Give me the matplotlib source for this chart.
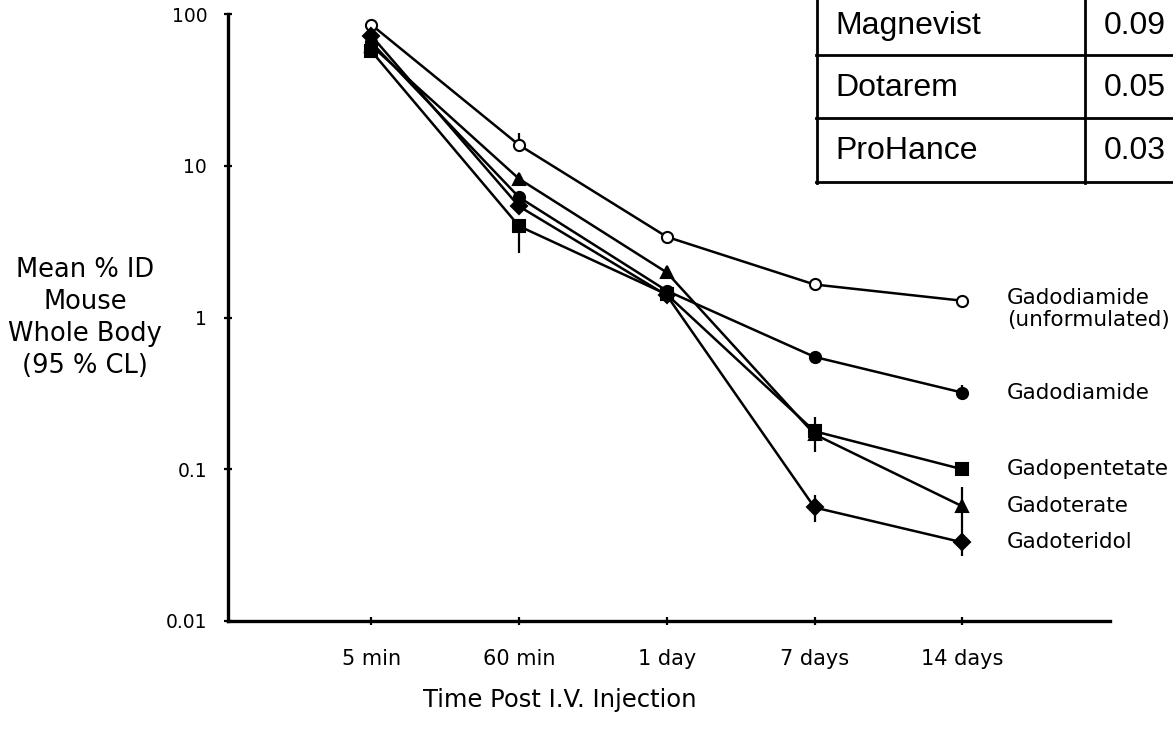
import numpy as np
import matplotlib
matplotlib.use("Agg")
import matplotlib.pyplot as plt

# whole-body retention, mean % ID with 95% CL
times = ["5 min", "60 min", "1 day", "7 days", "14 days"]

gd_unf = [85, 13.7, 3.4, 1.65, 1.29]
gd_unf_lo = [85, 13.7, 3.4, 1.65, 1.29]
gd_unf_hi = [85, 16.5, 3.4, 1.65, 1.29]

gd = [65, 6.2, 1.5, 0.55, 0.32]
gd_lo = [65, 6.2, 1.5, 0.55, 0.29]
gd_hi = [65, 6.2, 1.5, 0.55, 0.36]

gpent = [57, 4.0, 1.42, 0.178, 0.10]
gpent_lo = [57, 2.68, 1.42, 0.13, 0.10]
gpent_hi = [57, 4.0, 1.42, 0.22, 0.10]

gterate = [62, 8.2, 1.98, 0.17, 0.057]
gterate_lo = [62, 8.2, 1.98, 0.17, 0.045]
gterate_hi = [62, 8.2, 1.98, 0.17, 0.076]

gteridol = [72, 5.4, 1.40, 0.056, 0.033]
gteridol_lo = [72, 5.4, 1.40, 0.045, 0.027]
gteridol_hi = [72, 5.4, 1.40, 0.068, 0.045]

names = ["Gadodiamide\n(unformulated)", "Gadodiamide", "Gadopentetate",
         "Gadoterate", "Gadoteridol"]

# inset table
drugs = ["Magnevist", "Dotarem", "ProHance"]
drug_vals = ["0.09", "0.05", "0.03"]

W, H = 1173, 731
fig = plt.figure(figsize=(W / 100, H / 100), dpi=100)
ax = fig.add_axes([228 / W, (H - 621) / H, (1110 - 228) / W, (621 - 14) / H])

x = np.arange(len(times))
series = [
    (gd_unf, gd_unf_lo, gd_unf_hi, dict(marker="o", mfc="white", ms=8)),
    (gd, gd_lo, gd_hi, dict(marker="o", mfc="black", ms=8)),
    (gpent, gpent_lo, gpent_hi, dict(marker="s", mfc="black", ms=8)),
    (gterate, gterate_lo, gterate_hi, dict(marker="^", mfc="black", ms=9)),
    (gteridol, gteridol_lo, gteridol_hi, dict(marker="D", mfc="black", ms=8)),
]
for (y, lo, hi, st), name in zip(series, names):
    y = np.array(y)
    yerr = [y - np.array(lo), np.array(hi) - y]
    ax.errorbar(x, y, yerr=yerr, color="black", lw=1.8, mec="black", mew=1.5,
                elinewidth=1.6, capsize=0, **st)
    va = "top" if "\n" in name else "center"
    dy = 9 if "\n" in name else 0
    ax.annotate(name, (x[-1], y[-1]), xytext=(32, dy), textcoords="offset points",
                va=va, ha="left", fontsize=15.5, linespacing=1.1)

ax.set_yscale("log")
ax.set_ylim(0.01, 100)
ax.set_xlim(-0.97, 5.0)
ax.set_yticks([0.01, 0.1, 1, 10, 100])
ax.set_yticklabels(["0.01", "0.1", "1", "10", "100"])
ax.yaxis.set_minor_locator(matplotlib.ticker.NullLocator())
ax.set_xticks(x)
ax.set_xticklabels(times)
ax.tick_params(axis="y", direction="inout", length=6, width=1.6, pad=12, labelsize=13.5)
ax.tick_params(axis="x", direction="inout", length=6, width=1.6, pad=17, labelsize=15)
for s in ["top", "right"]:
    ax.spines[s].set_visible(False)
for s in ["left", "bottom"]:
    ax.spines[s].set_linewidth(2.4)

fig.text(560 / W, (H - 700) / H, "Time Post I.V. Injection", ha="center", va="center",
         fontsize=17.5)
fig.text(85 / W, (H - 318) / H, "Mean % ID\nMouse\nWhole Body\n(95 % CL)",
         ha="center", va="center", fontsize=18.5, linespacing=1.3)

# inset table in pixel units, top row runs off the top edge
tab = fig.add_axes([816 / W, (H - 184) / H, (W - 816) / W, 184 / H])
tab.set_xlim(816, W)
tab.set_ylim(184, 0)
tab.axis("off")
row_lines = [55, 118, 182]
row_mid = [26, 88, 151]
for d, v, yc in zip(drugs, drug_vals, row_mid):
    tab.text(835, yc, d, fontsize=23, family="Liberation Sans", va="center")
    tab.text(1104, yc, v, fontsize=23, family="Liberation Sans", va="center")
for yl in row_lines:
    tab.plot([816, W], [yl, yl], color="black", lw=2, clip_on=False)
for xl in [817, 1085]:
    tab.plot([xl, xl], [-5, 183], color="black", lw=2, clip_on=False)

fig.savefig("out.png", dpi=100, facecolor="white")
